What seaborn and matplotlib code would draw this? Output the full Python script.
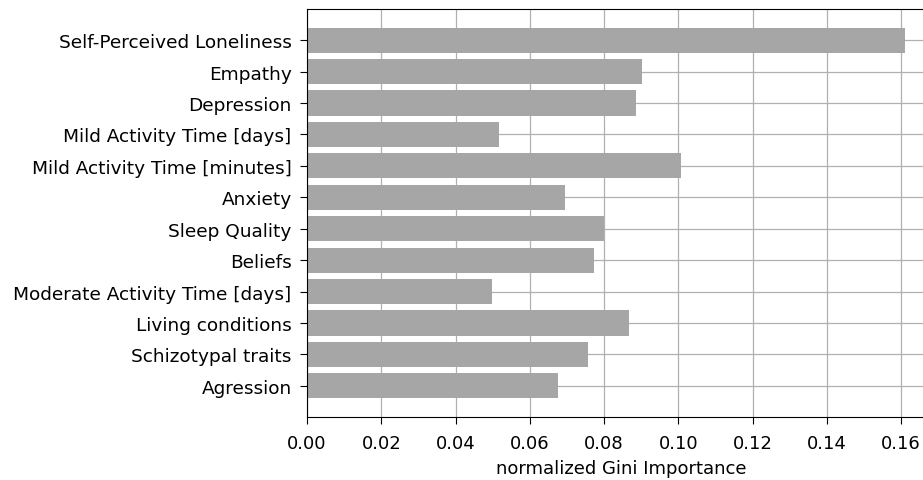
import matplotlib
matplotlib.use("Agg")
import matplotlib.pyplot as plt
import seaborn as sns
import pandas as pd

features = ["Self-Perceived Loneliness", "Empathy", "Depression",
            "Mild Activity Time [days]", "Mild Activity Time [minutes]",
            "Anxiety", "Sleep Quality", "Beliefs",
            "Moderate Activity Time [days]", "Living conditions",
            "Schizotypal traits", "Agression"]
importance = [0.161, 0.0903, 0.0885, 0.0517, 0.1008, 0.0695, 0.0800,
              0.0772, 0.0498, 0.0868, 0.0756, 0.0675]
xticks = [0.00, 0.02, 0.04, 0.06, 0.08, 0.10, 0.12, 0.14, 0.16]

df = pd.DataFrame({"feature": features, "importance": importance})

plt.rcParams['font.family'] = ['DejaVu Sans']
fig = plt.figure(figsize=(9.23, 4.81), dpi=100)
ax = fig.add_axes([0.3326, 0.131, 0.68, 0.848])

sns.barplot(data=df, x="importance", y="feature", orient="h",
            color="#a6a6a6", saturation=1, width=0.8, ax=ax)

ax.set_ylim(len(features) - 1 + 0.99, -0.99)
ax.set_xlim(0, 0.169)
ax.set_xticks(xticks)
ax.set_xticklabels([f"{t:.2f}" for t in xticks])
ax.set_axisbelow(True)
ax.grid(True, color="#b0b0b0", linewidth=0.9)
ax.set_xlabel("normalized Gini Importance", fontsize=13, labelpad=5)
ax.set_ylabel("")
ax.tick_params(axis="y", labelsize=13.3, length=5, pad=6)
ax.tick_params(axis="x", labelsize=13, length=5, pad=7)
for s in ax.spines.values():
    s.set_color("black")

fig.savefig("out.png", dpi=100)
